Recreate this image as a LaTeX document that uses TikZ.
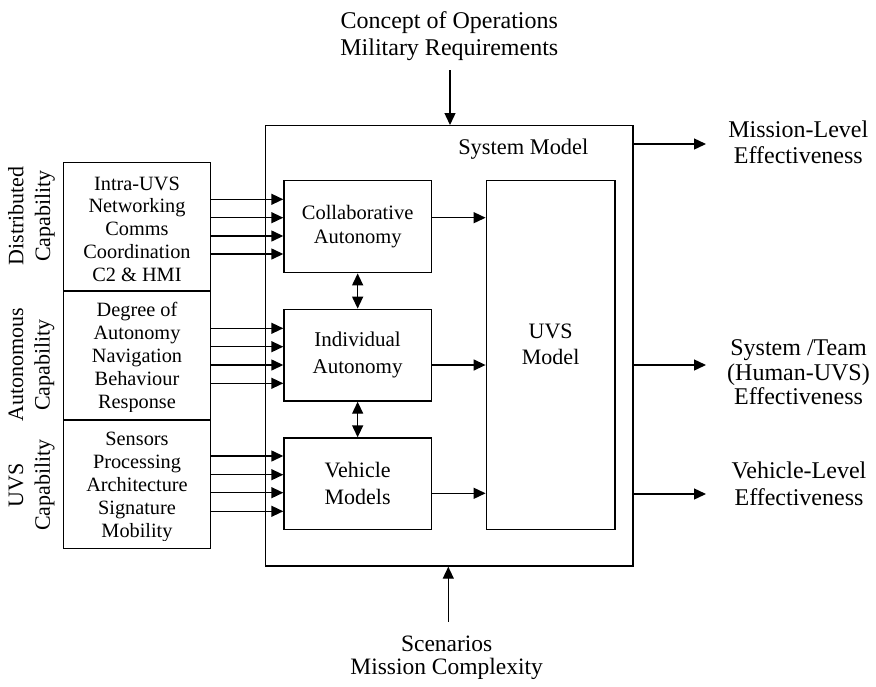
\documentclass[tikz,border=0pt]{standalone}
\usepackage{fontspec}
\setmainfont{Liberation Serif}
\usetikzlibrary{arrows.meta}
\begin{document}
\begin{tikzpicture}[x=1pt,y=-1pt,
  box/.style={draw, line width=1.4pt, inner sep=0pt, align=center},
  tip/.tip={Triangle[length=12pt,width=11pt]},
  arr/.style={line width=1.4pt, -tip},
  darr/.style={line width=1.4pt, tip-tip},
  txt/.style={align=center, inner sep=0pt},
  listtxt/.style={txt, font=\fontsize{20.3}{22.9}\selectfont},
  sidetxt/.style={txt, rotate=90, font=\fontsize{22}{26.7}\selectfont},
  outtxt/.style={txt, font=\fontsize{24}{26.5}\selectfont},
  leftbox/.style={box, minimum width=147.4pt},
  innerbox/.style={box, minimum width=147.3pt},
]
\useasboundingbox (0,0) rectangle (876,686);

% System model frame
\node[box, minimum width=367.5pt, minimum height=440.3pt] (sys) at (449.25,345.85) {};
\node[txt, font=\fontsize{22.4}{26}\selectfont] (systxt) at (523.3,149) {System Model};

% inner boxes
\node[innerbox, minimum height=92pt, font=\fontsize{20.5}{24.7}\selectfont] (collab) at (357.65,226.7) {Collaborative\\Autonomy};
\node[innerbox, minimum height=91.7pt, font=\fontsize{21}{26.5}\selectfont] (indiv) at (357.65,355.15) {Individual\\Autonomy};
\node[innerbox, minimum height=91.3pt, font=\fontsize{22}{26.7}\selectfont] (vehicle) at (357.65,483.65) {Vehicle\\Models};
\node[box, minimum width=128.7pt, minimum height=348.6pt,
  label={[name=uvstxt, txt, font=\fontsize{22}{25.7}\selectfont, yshift=11pt]center:UVS\\Model}] (uvs) at (550.65,355) {};

% left capability boxes
\node[leftbox, minimum height=128.3pt] (dist) at (137,226.85) {};
\node[leftbox, minimum height=129pt] (auton) at (137,355.5) {};
\node[leftbox, minimum height=128.3pt] (uvscap) at (137,484.15) {};

\begin{scope}
\clip (63,162.7) rectangle (211,283);
\node[listtxt] (disttxt) at (137,229.2) {Intra-UVS\\Networking\\Comms\\Coordination\\C2 \& HMI};
\end{scope}
\begin{scope}
\clip (63,291) rectangle (211,411.7);
\node[listtxt] (autontxt) at (137,357.7) {Degree of\\Autonomy\\Navigation\\Behaviour\\Response};
\end{scope}
\begin{scope}
\clip (63,420) rectangle (211,540);
\node[listtxt] (uvscaptxt) at (137,487.2) {Sensors\\Processing\\Architecture\\Signature\\Mobility};
\end{scope}

% side labels
\node[sidetxt] (distlbl) at (31.5,216) {Distributed\\Capability};
\node[sidetxt] (autonlbl) at (31.5,365) {Autonomous\\Capability};
\node[sidetxt] (uvslbl) at (31.5,485) {UVS\\Capability};

% input arrows
\foreach \y in {199.3,217.7,236,254}
  \draw[arr] (dist.east |- 0,\y) -- (collab.west |- 0,\y);
\foreach \y in {328.3,346.7,365,383.3}
  \draw[arr] (auton.east |- 0,\y) -- (indiv.west |- 0,\y);
\foreach \y in {456,474.7,492.7,511.3}
  \draw[arr] (uvscap.east |- 0,\y) -- (vehicle.west |- 0,\y);

% inner arrows to UVS model
\draw[arr] (collab.east |- 0,217.7) -- (uvs.west |- 0,217.7);
\draw[arr] (indiv.east |- 0,365) -- (uvs.west |- 0,365);
\draw[arr] (vehicle.east |- 0,493.3) -- (uvs.west |- 0,493.3);

% bidirectional arrows
\draw[darr] (collab.south) -- (indiv.north);
\draw[darr] (indiv.south) -- (vehicle.north);

% top and bottom inputs
\node[outtxt] (toptxt) at (449.3,36.1) {Concept of Operations\\Military Requirements};
\coordinate (tin) at (450,70);
\draw[arr] (tin) -- (sys.north -| tin);
\node[txt, font=\fontsize{23.5}{23}\selectfont] (bottxt) at (446.7,658) {Scenarios\\Mission Complexity};
\coordinate (bin) at (448.3,621.7);
\draw[arr] (bin) -- (sys.south -| bin);

% outputs
\coordinate (o1) at (706,144);
\coordinate (o2) at (706,365);
\coordinate (o3) at (706,494);
\draw[arr] (sys.east |- o1) -- (o1);
\draw[arr] (sys.east |- o2) -- (o2);
\draw[arr] (sys.east |- o3) -- (o3);
\node[outtxt] (out1) at (798.3,142.3) {Mission-Level\\Effectiveness};
\node[txt, font=\fontsize{24}{24.8}\selectfont] (out2) at (798.5,372.2) {System /Team\\(Human-UVS)\\Effectiveness};
\node[outtxt] (out3) at (799,484) {Vehicle-Level\\Effectiveness};
\end{tikzpicture}
\end{document}
